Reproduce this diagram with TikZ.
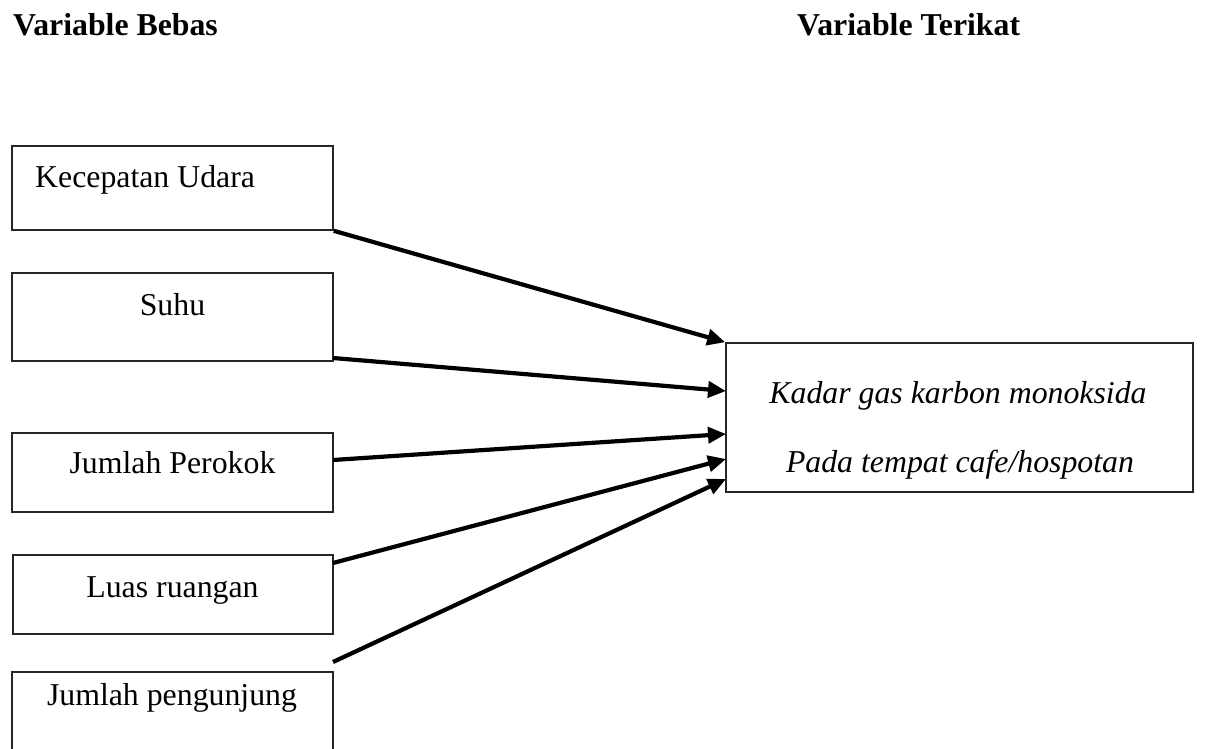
\documentclass[tikz,border=0pt]{standalone}
\usepackage{fontspec}
\setmainfont{Liberation Serif}
\usetikzlibrary{arrows.meta}
\begin{document}
\begin{tikzpicture}[x=1pt,y=-1pt,
  every node/.style={font=\fontsize{31.8}{38}\selectfont, inner sep=0pt},
  varbox/.style={draw=black!85, line width=1.6pt},
  link/.style={line width=4.2pt, -{Triangle[length=18pt,width=16pt]}},
  heading/.style={font=\fontsize{31.8}{38}\selectfont\bfseries, anchor=base west}]
\useasboundingbox (0,0) rectangle (1213,749);
\clip (0,0) rectangle (1213,749);
% headings
\node[heading] (hb) at (13,36) {Variable Bebas};
\node[heading] (ht) at (797,36) {Variable Terikat};
% left boxes
\node[varbox, minimum width=321pt, minimum height=84pt] (b1) at (172.5,188) {};
\node[varbox, minimum width=321pt, minimum height=88pt] (b2) at (172.5,317) {};
\node[varbox, minimum width=321pt, minimum height=79pt] (b3) at (172.5,472.5) {};
\node[varbox, minimum width=320pt, minimum height=79pt] (b4) at (173,594.5) {};
\node[varbox, minimum width=321pt, minimum height=120pt] (b5) at (172.5,732) {};
\node[anchor=base west] (t1) at (35,187) {Kecepatan Udara};
\node[anchor=base] (t2) at (172.5,315) {Suhu};
\node[anchor=base] (t3) at (172.5,473) {Jumlah Perokok};
\node[anchor=base] (t4) at (172.5,597) {Luas ruangan};
\node[anchor=base] (t5) at (172,705) {Jumlah pengunjung};
% right box
\node[varbox, minimum width=467pt, minimum height=149pt] (r) at (959.5,417.5) {};
\node[anchor=base] (r1) at (958,403) {\itshape Kadar gas karbon monoksida};
\node[anchor=base] (r2) at (960,472) {\itshape Pada tempat cafe/hospotan};
% arrow endpoints
\coordinate (s2) at (333,358);
\coordinate (s3) at (333,460);
\coordinate (s4) at (333,563);
\coordinate (s5) at (333,662);
\coordinate (e2) at (726,391);
\coordinate (e3) at (726,434);
\coordinate (e4) at (726,459);
\coordinate (e5) at (726,479);
% connectors
\draw[link] (b1.south east) -- (r.north west);
\draw[link] (s2) -- (e2);
\draw[link] (s3) -- (e3);
\draw[link] (s4) -- (e4);
\draw[link] (s5) -- (e5);
\end{tikzpicture}
\end{document}
